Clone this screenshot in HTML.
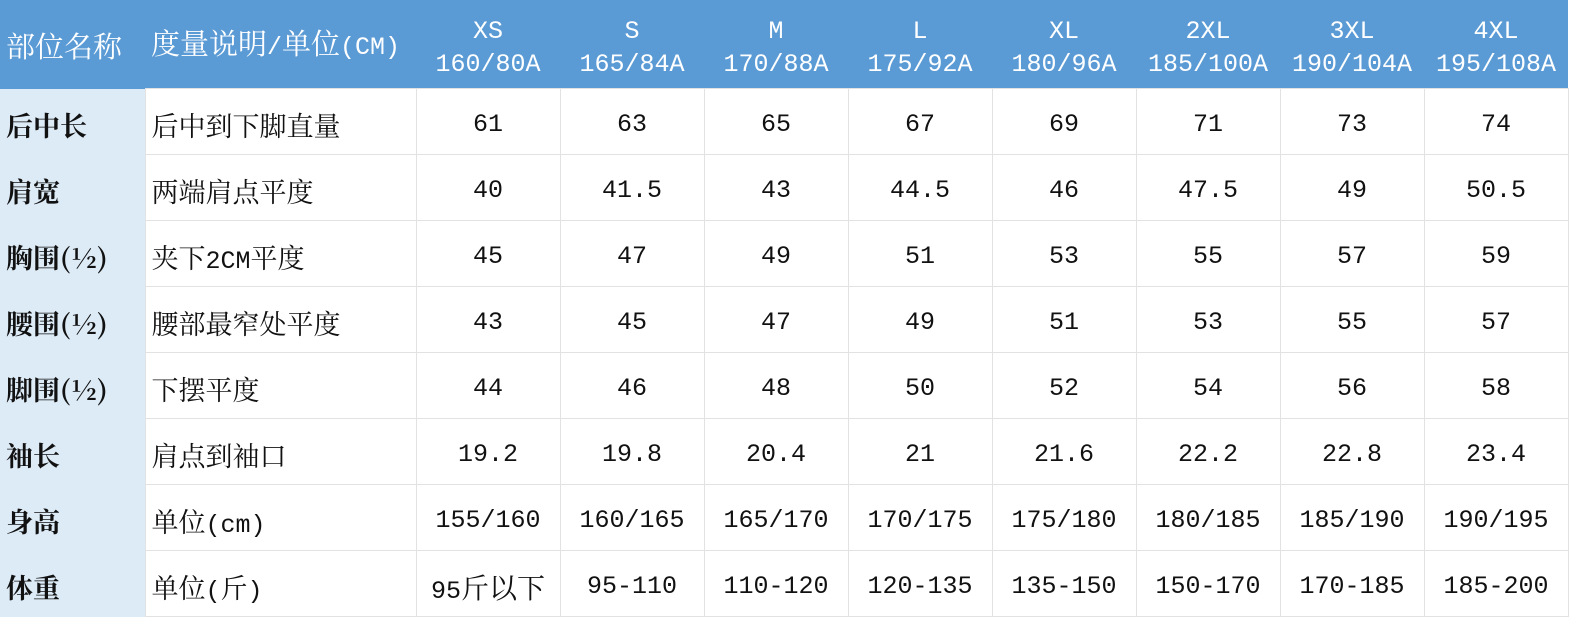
<!DOCTYPE html>
<html><head><meta charset="utf-8"><style>
body{margin:0;width:1569px;height:617px;background:#fff;overflow:hidden;font-family:"Liberation Mono","Noto Serif CJK SC",serif;}
table{border-collapse:collapse;table-layout:fixed;position:absolute;left:0;top:0;}
td{padding:6px 0 0 0;font-size:25px;color:#111;border:1px solid #e2e2e2;height:59px;text-align:center;white-space:nowrap;}
td span,.c1,.c2{font-family:"Noto Serif CJK SC",serif;}
span.k{font-size:28px;}
tr.h td{background:#5b9bd5;color:#fff;height:80px;border:none;line-height:33px;padding-top:8px;}
td.c1{background:#ddebf7;text-align:left;padding-left:6px;font-weight:bold;font-size:27px;border-left:none;border-top:none;border-bottom:none;}
tr.h td.c1{background:#5b9bd5;font-weight:normal;padding-top:2px;font-size:29px;}
td.c2{text-align:left;padding-left:6px;font-size:27px;}
tr.h td.c2{padding-top:2px;font-size:29px;}
td.c2 i{font-style:normal;font-family:"Liberation Mono",monospace;font-size:25px;}
</style></head><body>
<table>
<colgroup><col style="width:145px"><col style="width:271px"><col span="8" style="width:144px"></colgroup>
<tr class="h"><td class="c1">部位名称</td><td class="c2">度量说明<i>/</i>单位<i>(CM)</i></td><td>XS<br>160/80A</td><td>S<br>165/84A</td><td>M<br>170/88A</td><td>L<br>175/92A</td><td>XL<br>180/96A</td><td>2XL<br>185/100A</td><td>3XL<br>190/104A</td><td>4XL<br>195/108A</td></tr>
<tr><td class="c1">后中长</td><td class="c2">后中到下脚直量</td><td>61</td><td>63</td><td>65</td><td>67</td><td>69</td><td>71</td><td>73</td><td>74</td></tr>
<tr><td class="c1">肩宽</td><td class="c2">两端肩点平度</td><td>40</td><td>41.5</td><td>43</td><td>44.5</td><td>46</td><td>47.5</td><td>49</td><td>50.5</td></tr>
<tr><td class="c1">胸围(½)</td><td class="c2">夹下<i>2CM</i>平度</td><td>45</td><td>47</td><td>49</td><td>51</td><td>53</td><td>55</td><td>57</td><td>59</td></tr>
<tr><td class="c1">腰围(½)</td><td class="c2">腰部最窄处平度</td><td>43</td><td>45</td><td>47</td><td>49</td><td>51</td><td>53</td><td>55</td><td>57</td></tr>
<tr><td class="c1">脚围(½)</td><td class="c2">下摆平度</td><td>44</td><td>46</td><td>48</td><td>50</td><td>52</td><td>54</td><td>56</td><td>58</td></tr>
<tr><td class="c1">袖长</td><td class="c2">肩点到袖口</td><td>19.2</td><td>19.8</td><td>20.4</td><td>21</td><td>21.6</td><td>22.2</td><td>22.8</td><td>23.4</td></tr>
<tr><td class="c1">身高</td><td class="c2">单位<i>(cm)</i></td><td>155/160</td><td>160/165</td><td>165/170</td><td>170/175</td><td>175/180</td><td>180/185</td><td>185/190</td><td>190/195</td></tr>
<tr><td class="c1">体重</td><td class="c2">单位<i>(</i>斤<i>)</i></td><td>95<span class="k">斤以下</span></td><td>95-110</td><td>110-120</td><td>120-135</td><td>135-150</td><td>150-170</td><td>170-185</td><td>185-200</td></tr>
</table>
</body></html>
